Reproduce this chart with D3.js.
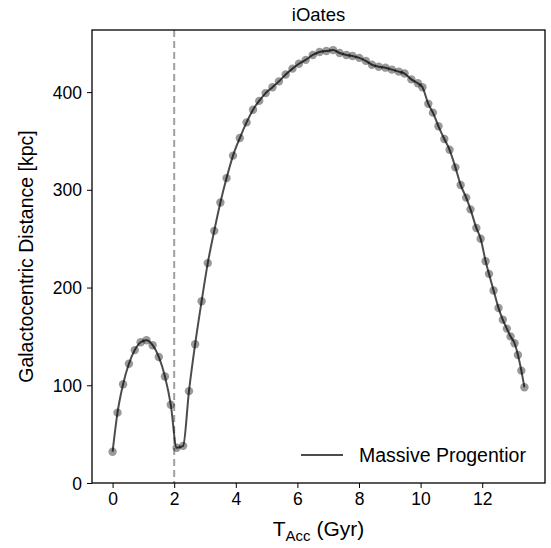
<!DOCTYPE html>
<html>
<head>
<meta charset="utf-8">
<script src="https://cdn.jsdelivr.net/npm/d3@7"></script>
<style>
  body { margin: 0; background: #fff; }
  svg { font-family: "Liberation Sans", Arial, sans-serif; }
  .tick text { font-size: 17.5px; fill: #000; }
  .tick line, .domain { stroke: #000; }
</style>
</head>
<body>
<svg width="551" height="548"></svg>
<script>
// accretion time (Gyr) and galactocentric distance (kpc) of the massive progenitor
const tAcc = [0, 0.16, 0.34, 0.53, 0.72, 0.91, 1.10, 1.30, 1.50, 1.70, 1.89, 2.08, 2.29, 2.48, 2.68, 2.89,
  3.09, 3.30, 3.50, 3.70, 3.91, 4.13, 4.35, 4.56, 4.76, 4.97, 5.19, 5.40, 5.62, 5.84, 6.05, 6.27,
  6.50, 6.72, 6.94, 7.16, 7.37, 7.59, 7.79, 8.01, 8.22, 8.42, 8.64, 8.86, 9.07, 9.29, 9.48, 9.70,
  9.91, 10.06, 10.25, 10.40, 10.58, 10.77, 10.94, 11.13, 11.30, 11.48, 11.62, 11.81, 11.95, 12.11,
  12.22, 12.37, 12.53, 12.67, 12.80, 12.92, 13.05, 13.16, 13.27, 13.37];
const dist = [32, 72, 101, 122, 136, 144, 146, 141, 129, 109, 80, 36, 38, 94, 142, 186,
  225, 258, 287, 312, 335, 353, 369, 382, 391, 399, 405, 411, 418, 424, 429, 433,
  438, 441, 442, 443, 440, 438, 437, 435, 432, 428, 426, 425, 423, 421, 419, 413,
  409, 405, 388, 379, 365, 352, 341, 323, 305, 292, 280, 261, 250, 227,
  214, 197, 179, 167, 158, 150, 143, 131, 115, 98];
const xTicks = [0, 2, 4, 6, 8, 10, 12];
const yTicks = [0, 100, 200, 300, 400];
const vLine = 2;

const data = tAcc.map((t, i) => ({t: t, d: dist[i]}));

const svg = d3.select('svg');
const margin = {left: 92, right: 6, top: 30, bottom: 65};
const width = 551 - margin.left - margin.right;
const height = 548 - margin.top - margin.bottom;

const chart = svg.append('g')
    .attr('transform', `translate(${margin.left}, ${margin.top})`);

// matplotlib-like 5% padding on x, y starts at 0
const xPad = (d3.max(tAcc) - d3.min(tAcc)) * 0.05;
const xScale = d3.scaleLinear()
    .domain([d3.min(tAcc) - xPad, d3.max(tAcc) + xPad])
    .range([0, width]);
const yMin = d3.min(dist), yMax = d3.max(dist);
const yScale = d3.scaleLinear()
    .domain([0, yMax + (yMax - yMin) * 0.05])
    .range([height, 0]);

chart.append('g')
    .attr('transform', `translate(0, ${height})`)
    .call(d3.axisBottom(xScale).tickValues(xTicks).tickSize(5).tickPadding(5).tickSizeOuter(0))
    .call(g => g.select('.domain').remove());

chart.append('g')
    .call(d3.axisLeft(yScale).tickValues(yTicks).tickSize(5).tickPadding(5).tickSizeOuter(0))
    .call(g => g.select('.domain').remove())
    .selectAll('.tick text').attr('dy', '0.35em');

// dashed vertical line
chart.append('line')
    .attr('x1', xScale(vLine)).attr('x2', xScale(vLine))
    .attr('y1', 0).attr('y2', height)
    .attr('stroke', '#a0a0a0')
    .attr('stroke-width', 2)
    .attr('stroke-dasharray', '7,4');

const line = d3.line()
    .x(d => xScale(d.t))
    .y(d => yScale(d.d))
    .curve(d3.curveMonotoneX);

chart.append('path')
    .datum(data)
    .attr('fill', 'none')
    .attr('stroke', '#000')
    .attr('stroke-opacity', 0.7)
    .attr('stroke-width', 2)
    .attr('d', line);

chart.selectAll('.pt')
    .data(data)
    .enter()
    .append('circle')
    .attr('class', 'pt')
    .attr('cx', d => xScale(d.t))
    .attr('cy', d => yScale(d.d))
    .attr('r', 4.2)
    .attr('fill', '#000')
    .attr('fill-opacity', 0.4);

// frame
chart.append('rect')
    .attr('width', width).attr('height', height)
    .attr('fill', 'none').attr('stroke', '#000').attr('stroke-width', 1.3);

// legend
const lg = chart.append('g')
    .attr('transform', `translate(${width - 244}, ${height - 28})`);
lg.append('line')
    .attr('x1', 0).attr('x2', 42)
    .attr('stroke', '#000').attr('stroke-opacity', 0.7).attr('stroke-width', 2);
lg.append('text')
    .attr('x', 58).attr('y', 7)
    .attr('font-size', 19.5)
    .text('Massive Progentior');

// labels
svg.append('text')
    .attr('x', margin.left + width / 2)
    .attr('y', 21)
    .attr('text-anchor', 'middle')
    .attr('font-size', 18.5)
    .text('iOates');

svg.append('text')
    .attr('transform', `translate(33, ${margin.top + height / 2}) rotate(-90)`)
    .attr('text-anchor', 'middle')
    .attr('font-size', 19.5)
    .text('Galactocentric Distance [kpc]');

const xl = svg.append('text')
    .attr('x', margin.left + width / 2)
    .attr('y', 536)
    .attr('text-anchor', 'middle')
    .attr('font-size', 21);
xl.append('tspan').text('T');
xl.append('tspan').attr('font-size', 15).attr('dy', 5).text('Acc');
xl.append('tspan').attr('dy', -5).text(' (Gyr)');
</script>
</body>
</html>
